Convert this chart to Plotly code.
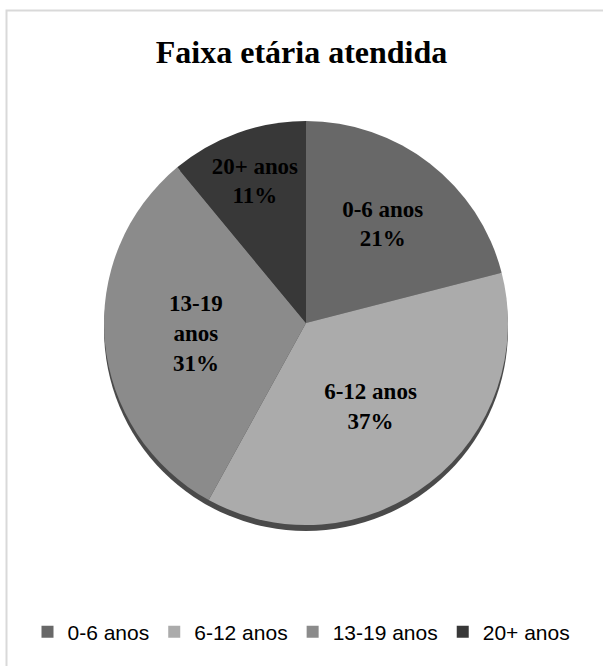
import plotly.graph_objects as go

categories = ["0-6 anos", "6-12 anos", "13-19 anos", "20+ anos"]
values = [21, 37, 31, 11]
slice_labels = ["0-6 anos", "6-12 anos", "13-19<br>anos", "20+ anos"]
colors = ["#686868", "#ababab", "#8b8b8b", "#383838"]

W, H = 603, 666
cx, cy, r = 306, 323, 202

def dom(cx, cy, r):
    return dict(x=[(cx - r) / W, (cx + r) / W], y=[1 - (cy + r) / H, 1 - (cy - r) / H])

fig = go.Figure()
# soft shadow disc under the pie
fig.add_trace(go.Pie(values=[1], marker=dict(colors=["#4a4a4a"], line=dict(width=0)),
                     textinfo="none", hoverinfo="skip", showlegend=False, sort=False,
                     domain=dom(cx, cy + 6, r)))
fig.add_trace(go.Pie(
    labels=categories, values=values, text=slice_labels,
    texttemplate="<b>%{text}<br>%{percent:.0%}</b>",
    textposition="inside", insidetextorientation="horizontal",
    insidetextfont=dict(family="Liberation Serif", size=23, color="black"),
    marker=dict(colors=colors, line=dict(width=0)),
    sort=False, direction="clockwise", rotation=0,
    domain=dom(cx, cy, r), showlegend=True,
))

fig.update_layout(
    width=W, height=H, margin=dict(l=0, r=0, t=0, b=0),
    paper_bgcolor="white",
    title=dict(text="<b>Faixa etária atendida</b>", x=0.5, xanchor="center",
               y=1 - 52 / H, yanchor="middle",
               font=dict(family="Liberation Serif", size=32, color="black")),
    legend=dict(orientation="h", x=0.5, xanchor="center", y=1 - 632 / H, yanchor="middle",
                font=dict(family="Liberation Sans", size=21, color="black"),
                itemwidth=30, traceorder="normal"),
    shapes=[dict(type="rect", xref="paper", yref="paper",
                 x0=6.5 / W, x1=1.2, y0=-0.2, y1=1 - 10.5 / H,
                 line=dict(color="#d9d9d9", width=2), fillcolor="rgba(0,0,0,0)")],
)

fig.write_html("out.html")
